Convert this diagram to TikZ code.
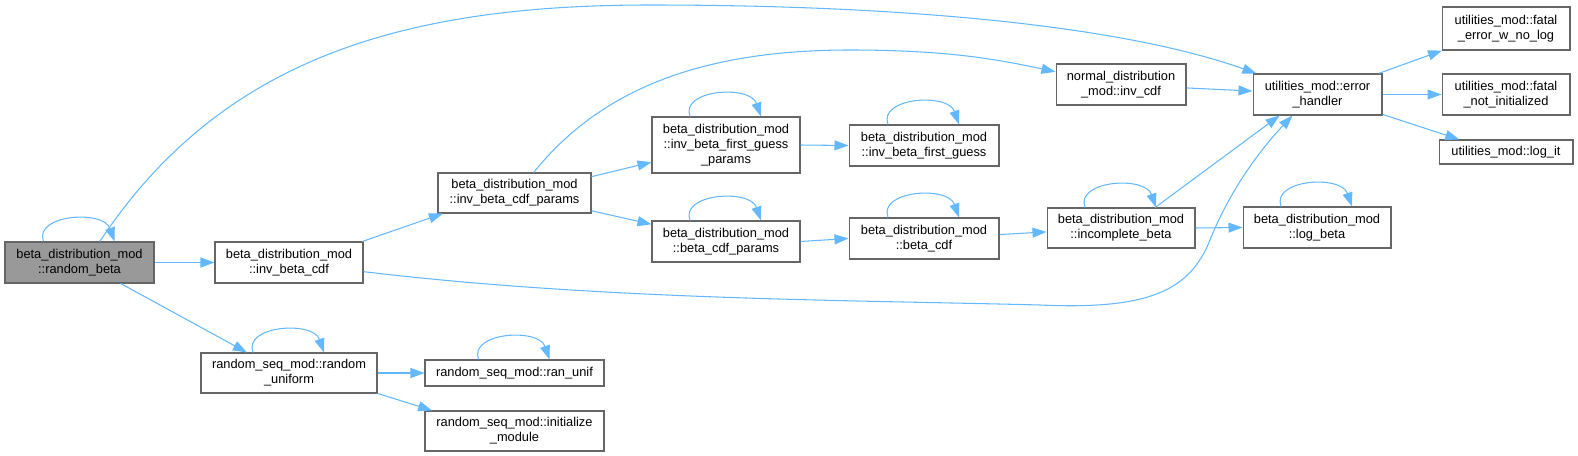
\documentclass[tikz,border=0pt]{standalone}
\usepackage{fontspec}
\setmainfont{Liberation Sans}
\usepackage{tikz}
\usetikzlibrary{arrows.meta}
\usepackage{xcolor}
\definecolor{callblue}{HTML}{63B8FF}
\definecolor{boxline}{HTML}{666666}
\definecolor{rootfill}{HTML}{999999}

\begin{document}
\begin{tikzpicture}[x=0.02cm, y=0.02cm,
    fn/.style={draw=boxline, line width=0.6pt, fill=white, align=center, inner sep=0pt,
      font=\fontsize{7.3}{8.5}\selectfont, minimum height=0.82cm},
    call/.style={draw=callblue, line width=0.6pt, -{Triangle[length=0.28cm, width=0.2cm]}}]
  \useasboundingbox (0,0) rectangle (1578,-456);

  % --- caller (root) ---
  \node[fn, fill=rootfill, minimum width=2.98cm] (rb) at (79.5,-262.5) {beta\_distribution\_mod\\::random\_beta};

  % --- first level ---
  \node[fn, minimum width=2.96cm] (ibc) at (289,-262.5) {beta\_distribution\_mod\\::inv\_beta\_cdf};
  \node[fn, minimum width=3.52cm, minimum height=0.8cm] (ru) at (289,-373) {random\_seq\_mod::random\\\_uniform};

  % --- second level ---
  \node[fn, minimum width=3.06cm, minimum height=0.8cm] (ibcp) at (514.5,-193) {beta\_distribution\_mod\\::inv\_beta\_cdf\_params};
  \node[fn, minimum width=3.58cm, minimum height=0.52cm] (ranunif) at (514.5,-373) {random\_seq\_mod::ran\_unif};
  \node[fn, minimum width=3.58cm, minimum height=0.8cm] (init) at (514.5,-431) {random\_seq\_mod::initialize\\\_module};

  % --- third and fourth level ---
  \node[fn, minimum width=2.96cm, minimum height=1.12cm] (ifgp) at (726,-145) {beta\_distribution\_mod\\::inv\_beta\_first\_guess\\\_params};
  \node[fn, minimum width=2.96cm] (bcp) at (726,-241.5) {beta\_distribution\_mod\\::beta\_cdf\_params};
  \node[fn, minimum width=3cm] (ifg) at (924,-145.5) {beta\_distribution\_mod\\::inv\_beta\_first\_guess};
  \node[fn, minimum width=3cm] (bc) at (924,-238.5) {beta\_distribution\_mod\\::beta\_cdf};

  % --- fifth and sixth level ---
  \node[fn, minimum width=2.6cm] (ncdf) at (1121,-84.5) {normal\_distribution\\\_mod::inv\_cdf};
  \node[fn, minimum width=2.96cm, minimum height=0.8cm] (ib) at (1121,-228) {beta\_distribution\_mod\\::incomplete\_beta};
  \node[fn, minimum width=2.96cm] (lb) at (1317,-227.5) {beta\_distribution\_mod\\::log\_beta};
  \node[fn, minimum width=2.58cm] (eh) at (1317.5,-94.5) {utilities\_mod::error\\\_handler};

  % --- utilities ---
  \node[fn, minimum width=2.56cm, minimum height=0.86cm] (fe) at (1506,-28.5) {utilities\_mod::fatal\\\_error\_w\_no\_log};
  \node[fn, minimum width=2.56cm] (fni) at (1506,-94.5) {utilities\_mod::fatal\\\_not\_initialized};
  \node[fn, minimum width=2.68cm, minimum height=0.48cm] (li) at (1506,-152) {utilities\_mod::log\_it};

  % --- self calls ---
  \foreach \n in {rb,ru,ranunif,ifgp,bcp,ifg,bc,ib,lb} {
    \draw[call] ([xshift=-0.72cm]\n.north) .. controls +(-10,27) and +(-11,32) .. ([xshift=0.7cm]\n.north);
  }

  % --- straight calls ---
  \draw[call] (rb.east) -- (ibc.west);
  \draw[call] (rb.-27) -- (ru.154);
  \draw[call] (ibc.16) -- (ibcp.196);
  \draw[call] (ibcp.12) -- (ifgp.193);
  \draw[call] (ibcp.-13) -- (bcp.167);
  \draw[call] (ifgp.east) -- (ifg.west);
  \draw[call] (bcp.east) -- (bc.west);
  \draw[call] (bc.3) -- (ib.183);
  \draw[call] (ib.east) -- (lb.west);
  \draw[call] (ib.31) -- (eh.209);
  \draw[call] (ncdf.-3) -- (eh.177);
  \draw[call] (eh.19) -- (fe.199);
  \draw[call] (eh.east) -- (fni.west);
  \draw[call] (eh.-17) -- (li.165);
  \draw[call] (ru.east) -- (ranunif.west);
  \draw[call] (ru.-13) -- (init.166);

  % --- long calls ---
  \draw[call] (rb.46) .. controls (220,-60) and (400,-5) .. (650,-5)
    .. controls (900,-5) and (1120,-25) .. (eh.161);
  \draw[call] (ibcp.47) .. controls (600,-90) and (700,-50) .. (850,-50)
    .. controls (950,-50) and (1000,-60) .. (ncdf.169);
  \draw[call] (ibc.-7) .. controls (600,-300) and (850,-300) .. (1040,-305)
    .. controls (1150,-310) and (1190,-290) .. (1210,-240)
    .. controls (1230,-190) and (1260,-150) .. (eh.220);
\end{tikzpicture}
\end{document}
